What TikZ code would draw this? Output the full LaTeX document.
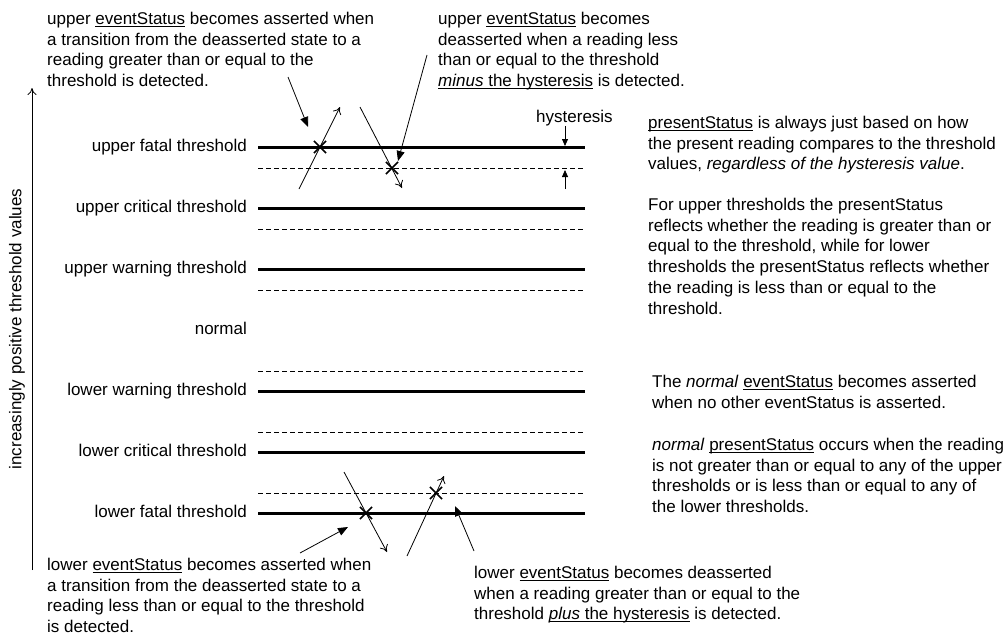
\documentclass[tikz,border=0pt]{standalone}
\usepackage{fontspec}
\setmainfont{Liberation Sans}
\usepackage{tikz}
\usetikzlibrary{arrows.meta,positioning,shapes.misc}
\newcommand{\uln}[1]{\underline{\smash{#1}}}
\tikzset{
  txt/.style={font=\fontsize{17}{20.7}\selectfont, align=left, inner sep=0pt, anchor=north west},
  lvl/.style={font=\fontsize{17}{20.7}\selectfont, inner sep=0pt, text height=12.2pt, text depth=3.6pt},
  thr/.style={line width=3pt},
  hyst/.style={dash pattern=on 5pt off 3pt, line width=0.7pt},
  walk/.style={line width=0.8pt, -{Computer Modern Rightarrow[length=7pt,width=9pt]}},
  arr/.style={line width=0.8pt, -{Triangle[length=10pt,width=8pt]}},
  tick/.style={line width=0.8pt, -{Triangle[length=7pt,width=6pt]}},
  hit/.style={cross out, draw, line width=1.6pt, minimum size=10.5pt, inner sep=0pt}
}
\begin{document}
\begin{tikzpicture}[x=1pt, y=-1pt]
\useasboundingbox (0,0) rectangle (1008,637);

% threshold levels
\foreach \y/\nm/\lab in {147/uf/upper fatal, 208/uc/upper critical, 269/uw/upper warning} {
  \coordinate (\nm-a) at (258,\y);
  \coordinate (\nm-b) at (585,\y);
  \draw[thr] (\nm-a) -- (\nm-b);
  \draw[hyst] (258,\y+21) -- (585,\y+21);
  \node[lvl, left=11pt of \nm-a] (\nm-l) {\lab{} threshold};
}
\foreach \y/\nm/\lab in {391/lw/lower warning, 452/lc/lower critical, 513/lf/lower fatal} {
  \coordinate (\nm-a) at (258,\y);
  \coordinate (\nm-b) at (585,\y);
  \draw[thr] (\nm-a) -- (\nm-b);
  \draw[hyst] (258,\y-20) -- (585,\y-20);
  \node[lvl, left=11pt of \nm-a] (\nm-l) {\lab{} threshold};
}
\coordinate (nm-a) at (258,330);
\node[lvl, left=11pt of nm-a] (nm-l) {normal};

% axis
\coordinate (ax-lo) at (32,570);
\coordinate (ax-hi) at (32,88);
\draw[walk] (ax-lo) -- (ax-hi);
\node[lvl, rotate=90, anchor=center] (axlab) at (17,329) {increasingly positive threshold values};

% hysteresis marker
\node[lvl, anchor=base west] (hy) at (536,122) {hysteresis};
\coordinate (hy-t) at (565,146);
\coordinate (hy-b) at (565,170);
\draw[tick] (hy.south -| hy-t) -- (hy-t);
\draw[tick] (565,189) -- (hy-b);

% readings crossing the upper fatal threshold
\coordinate (u1s) at (299,189); \coordinate (u1e) at (340,107);
\coordinate (u2s) at (360,107); \coordinate (u2e) at (402,188);
\draw[walk] (u1s) -- (u1e);
\draw[walk] (u2s) -- (u2e);
\node[hit] (x1) at (320,147) {};
\node[hit] (x2) at (392,168) {};

% readings crossing the lower fatal threshold
\coordinate (l1s) at (344,472); \coordinate (l1e) at (387,552);
\coordinate (l2s) at (407,556); \coordinate (l2e) at (444,476);
\draw[walk] (l1s) -- (l1e);
\draw[walk] (l2s) -- (l2e);
\node[hit] (x3) at (366,513) {};
\node[hit] (x4) at (436,493) {};

% notes
\node[txt] (tl) at (47,12) {upper \uln{eventStatus} becomes asserted when\\a transition from the deasserted state to a\\reading greater than or equal to the\\threshold is detected.};
\node[txt] (tm) at (438,12) {upper \uln{eventStatus} becomes\\deasserted when a reading less\\than or equal to the threshold\\\uln{\textit{minus} the hysteresis} is detected.};
\node[txt] (bl) at (47,558) {lower \uln{eventStatus} becomes asserted when\\a transition from the deasserted state to a\\reading less than or equal to the threshold\\is detected.};
\node[txt] (bm) at (474,566) {lower \uln{eventStatus} becomes deasserted\\when a reading greater than or equal to the\\threshold \uln{\textit{plus} the hysteresis} is detected.};

\node[txt] (ra) at (648,116) {\uln{presentStatus} is always just based on how\\the present reading compares to the threshold\\values, \textit{regardless of the hysteresis value}.};
\node[txt] (rb) at (648,198) {For upper thresholds the presentStatus\\reflects whether the reading is greater than or\\equal to the threshold, while for lower\\thresholds the presentStatus reflects whether\\the reading is less than or equal to the\\threshold.};
\node[txt] (rc) at (652,375) {The \textit{normal} \uln{eventStatus} becomes asserted\\when no other eventStatus is asserted.};
\node[txt] (rd) at (652,438) {\textit{normal} \uln{presentStatus} occurs when the reading\\is not greater than or equal to any of the upper\\thresholds or is less than or equal to any of\\the lower thresholds.};

% pointers from the notes
\coordinate (a1s) at (288,77);  \coordinate (a1e) at (308,127);
\coordinate (a2s) at (427,55);  \coordinate (a2e) at (398,161);
\coordinate (a3s) at (300,553); \coordinate (a3e) at (348,527);
\coordinate (a4s) at (474,551); \coordinate (a4e) at (455,506);
\draw[arr] (a1s) -- (a1e);
\draw[arr] (a2s) -- (a2e);
\draw[arr] (a3s) -- (a3e);
\draw[arr] (a4s) -- (a4e);
\end{tikzpicture}
\end{document}
